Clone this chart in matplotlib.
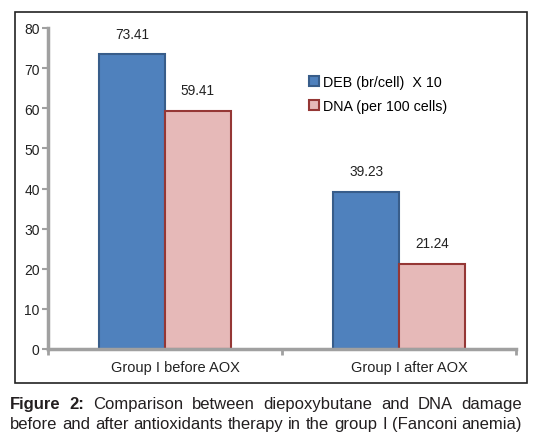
import matplotlib
matplotlib.use('Agg')
import matplotlib.pyplot as plt
import matplotlib.transforms as mtransforms
from matplotlib.patches import Rectangle
import numpy as np

plt.rcParams['font.family'] = ['Liberation Sans', 'DejaVu Sans']

# data
groups = ['Group I before AOX', 'Group I after AOX']
deb = [73.41, 39.23]
dna = [59.41, 21.24]
series_names = ['DEB (br/cell)  X 10', 'DNA (per 100 cells)']

fig = plt.figure(figsize=(5.51, 4.39), dpi=100)
ax = fig.add_axes([48/551, 1 - 350/439, 468/551, 321/439])

x = np.arange(len(groups))
w = 0.28
b1 = ax.bar(x - w/2, deb, w, color='#4F81BD', edgecolor='#385D8A', linewidth=1.5, label=series_names[0])
b2 = ax.bar(x + w/2, dna, w, color='#E6B9B8', edgecolor='#953735', linewidth=1.5, label=series_names[1])

for bars, vals in [(b1, deb), (b2, dna)]:
    for r, v in zip(bars, vals):
        ax.annotate(f'{v:.2f}', (r.get_x() + r.get_width()/2, v), xytext=(0, 10),
                    textcoords='offset points', ha='center', va='bottom', fontsize=9.8, color='#222222')

ax.set_xlim(-0.5, 1.5)
ax.set_ylim(0, 80)
ax.set_yticks(range(0, 81, 10))
ax.set_xticks(x)
ax.set_xticklabels(groups)
ax.set_xticks([-0.5, 0.5, 1.5], minor=True)
ax.tick_params(axis='x', which='major', length=0, labelsize=10.5, pad=8, labelcolor='#222222')
ax.tick_params(axis='x', which='minor', length=4, width=2, color='#A0A0A0', direction='out')
ax.tick_params(axis='y', length=4, width=1.5, color='#A0A0A0', labelsize=10, labelcolor='#222222', pad=2)
shift = mtransforms.ScaledTranslation(10/100, 0, fig.dpi_scale_trans)
for lbl in ax.get_xticklabels():
    lbl.set_transform(lbl.get_transform() + shift)
for s in ['top', 'right']:
    ax.spines[s].set_visible(False)
for s in ['left', 'bottom']:
    ax.spines[s].set_color('#A0A0A0')
    ax.spines[s].set_linewidth(2.5)
ax.patch.set_alpha(0)

ax.legend(loc='upper left', bbox_to_anchor=(0.53, 0.895), frameon=False, fontsize=10.3,
          handlelength=0.7, handleheight=0.7, handletextpad=0.3, labelspacing=0.7)

# outer frame
fig.patches.append(Rectangle((15/551, 1 - 384/439), 512/551, 371/439, transform=fig.transFigure,
                             fill=False, edgecolor='#222222', linewidth=1.2))

# justified caption
caption = [
    [('Figure', 'bold'), ('2:', 'bold'), ('Comparison', 'normal'), ('between', 'normal'), ('diepoxybutane', 'normal'),
     ('and', 'normal'), ('DNA', 'normal'), ('damage', 'normal')],
    [(wd, 'normal') for wd in 'before and after antioxidants therapy in the group I (Fanconi anemia)'.split()],
]
fig.canvas.draw()
renderer = fig.canvas.get_renderer()
left, right = 10/551, 522/551
for i, line in enumerate(caption):
    y = 1 - (405 + i*20)/439
    texts = [fig.text(0, y, wd, fontsize=12, fontweight=fw, color='#231F20', va='center') for wd, fw in line]
    widths = [t.get_window_extent(renderer).width / fig.bbox.width for t in texts]
    gap = (right - left - sum(widths)) / (len(texts) - 1)
    xx = left
    for t, wdt in zip(texts, widths):
        t.set_x(xx)
        xx += wdt + gap

fig.savefig('out.png', dpi=100)
